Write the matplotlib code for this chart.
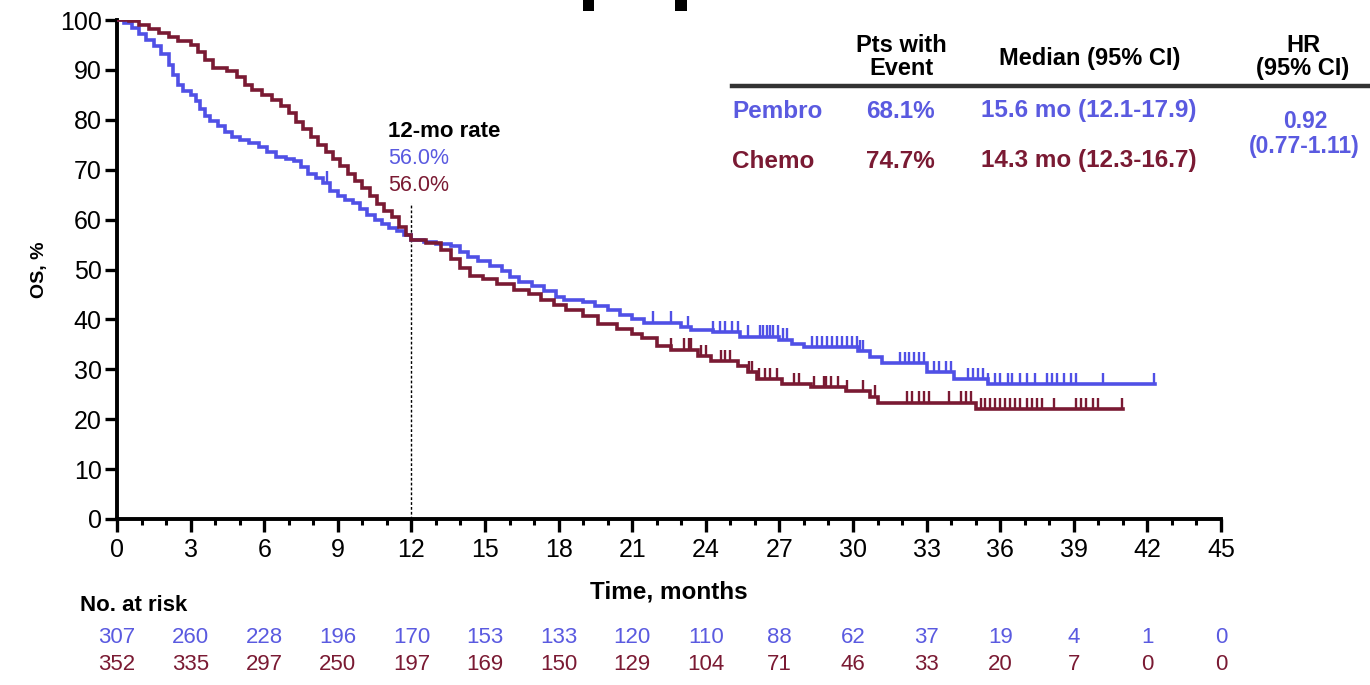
import numpy as np
import matplotlib
matplotlib.use('Agg')
import matplotlib.pyplot as plt
from matplotlib.lines import Line2D
from matplotlib.patches import Rectangle

plt.rcParams['font.family'] = ['Liberation Sans', 'DejaVu Sans']

# Colours
blue = '#5050E6'
blue_txt = '#5A5AE0'
red = '#7A1A33'

# Kaplan-Meier curves (time in months, OS %)
pembro_t = [0, 0.3, 0.6, 0.9, 1.2, 1.5, 1.8, 2.1, 2.3, 2.5, 2.7, 3.0, 3.2, 3.4, 3.6, 3.8,
            4.1, 4.4, 4.7, 5.0, 5.4, 5.8, 6.1, 6.5, 6.9, 7.2, 7.5, 7.8, 8.1, 8.4, 8.7,
            9.0, 9.3, 9.6, 9.9, 10.2, 10.5, 10.8, 11.1, 11.4, 11.7, 12.0, 12.5, 13.0,
            13.6, 14.0, 14.3, 14.7, 15.2, 15.7, 16.0, 16.4, 16.9, 17.4, 17.9, 18.2,
            19.0, 19.5, 20.0, 20.5, 21.0, 21.5, 23.0, 23.4, 24.3, 25.4, 27.0, 27.5,
            28.0, 30.2, 30.7, 31.2, 33.0, 34.1, 35.5, 42.3]
pembro_s = [100, 99.3, 98.3, 97.2, 96.0, 94.8, 93.2, 91.0, 89.0, 87.0, 85.8, 85.0, 83.8,
            82.2, 80.8, 79.8, 78.7, 77.6, 76.6, 76.0, 75.4, 74.6, 73.6, 72.6, 72.2, 71.8,
            70.6, 69.2, 68.4, 67.4, 65.8, 64.8, 64.0, 63.3, 62.2, 61.0, 60.0, 59.2, 58.4,
            57.8, 57.0, 56.0, 55.6, 55.2, 54.8, 53.6, 52.6, 51.8, 50.8, 49.6, 48.4, 47.4,
            46.6, 45.6, 44.4, 43.8, 43.4, 42.6, 41.8, 40.8, 40.0, 39.3, 38.4, 37.9, 37.4,
            36.5, 35.9, 35.0, 34.4, 33.6, 32.4, 31.2, 29.4, 28.0, 27.0, 27.0]

chemo_t = [0, 0.5, 0.9, 1.3, 1.7, 2.1, 2.5, 3.0, 3.3, 3.6, 3.9, 4.5, 4.9, 5.2, 5.5, 5.9,
           6.3, 6.7, 7.0, 7.3, 7.6, 7.9, 8.2, 8.5, 8.8, 9.1, 9.4, 9.7, 10.0, 10.3, 10.6,
           10.9, 11.2, 11.5, 11.8, 12.0, 12.6, 13.2, 13.6, 14.0, 14.4, 14.9, 15.5, 16.2,
           16.8, 17.3, 17.8, 18.3, 19.0, 19.6, 20.4, 21.0, 21.4, 22.0, 22.6, 23.7, 24.2,
           25.3, 25.7, 26.1, 27.1, 28.3, 29.7, 30.7, 31.0, 35.0, 41.0]
chemo_s = [100, 99.8, 99.0, 98.2, 97.4, 96.6, 95.8, 95.0, 93.6, 92.0, 90.4, 89.8, 88.6,
           87.0, 86.0, 85.0, 84.0, 82.8, 81.4, 79.6, 78.2, 76.6, 75.0, 73.6, 72.2, 70.8,
           69.2, 67.8, 66.4, 64.8, 63.2, 61.8, 60.6, 58.6, 57.0, 56.0, 55.4, 54.0, 52.2,
           50.4, 48.6, 48.0, 47.0, 45.8, 45.0, 43.8, 42.8, 41.8, 40.6, 39.0, 38.0, 37.0,
           36.2, 34.6, 33.9, 32.6, 31.6, 30.6, 29.4, 28.0, 27.0, 26.4, 25.6, 24.5, 23.3,
           22.0, 22.0]

# Censoring marks (months)
pembro_cens = [8.55, 21.85, 22.58, 23.28, 24.3, 24.58, 24.79, 25.07, 25.31, 25.72, 26.2,
               26.33, 26.5, 26.62, 26.74, 26.95, 27.15, 27.31, 28.33, 28.54, 28.74, 28.94,
               29.15, 29.35, 29.56, 29.76, 29.96, 30.17, 30.29, 30.41, 31.9, 32.1, 32.3,
               32.5, 32.7, 32.9, 33.3, 33.5, 33.8, 34.0, 34.7, 34.9, 35.1, 35.3, 35.5,
               35.8, 36.0, 36.3, 36.5, 36.8, 37.1, 37.4, 37.9, 38.1, 38.3, 38.6, 38.9,
               39.1, 40.2, 42.25]
chemo_cens = [22.6, 23.1, 23.3, 23.4, 23.8, 24.0, 24.6, 24.8, 25.0, 25.75, 25.9, 26.15,
              26.4, 26.6, 26.9, 27.6, 27.8, 28.4, 28.8, 28.9, 29.1, 29.4, 29.75, 30.4,
              30.9, 32.2, 32.4, 32.7, 32.9, 33.1, 33.9, 34.4, 34.6, 34.8, 35.2, 35.4,
              35.6, 35.8, 36.0, 36.2, 36.4, 36.6, 36.8, 37.1, 37.3, 37.5, 37.7, 38.2,
              39.1, 39.3, 39.5, 39.8, 40.0, 40.95]

# Number at risk
risk_times = [0, 3, 6, 9, 12, 15, 18, 21, 24, 27, 30, 33, 36, 39, 42, 45]
pembro_risk = [307, 260, 228, 196, 170, 153, 133, 120, 110, 88, 62, 37, 19, 4, 1, 0]
chemo_risk = [352, 335, 297, 250, 197, 169, 150, 129, 104, 71, 46, 33, 20, 7, 0, 0]

fig = plt.figure(figsize=(13.7, 6.85), dpi=100)
ax = fig.add_axes([117 / 1370, 1 - 519 / 685, 1104 / 1370, 499 / 685])


def px(x, y):
    return x / 1370, 1 - y / 685


def draw_km(t, s, cens, color):
    t = np.asarray(t)
    s = np.asarray(s)
    ax.step(t, s, where='post', color=color, lw=2.6, solid_joinstyle='miter', zorder=3)
    c = np.asarray(cens)
    idx = np.searchsorted(t, c, side='right') - 1
    ax.vlines(c, s[idx], s[idx] + 2.3, color=color, lw=1.7, zorder=3)


draw_km(pembro_t, pembro_s, pembro_cens, blue)
draw_km(chemo_t, chemo_s, chemo_cens, red)

# 12-month marker
ax.plot([12, 12], [0, 63.3], color='black', lw=1, linestyle=(0, (2, 1.5)), zorder=2)
ax.text(11.05, 77.6, '12-mo rate', fontsize=16, fontweight='bold', va='center', ha='left')
ax.text(11.05, 72.3, '56.0%', fontsize=15.5, color=blue_txt, va='center', ha='left')
ax.text(11.05, 66.9, '56.0%', fontsize=15.5, color=red, va='center', ha='left')

# Axes
ax.set_xlim(0, 45)
ax.set_ylim(0, 100)
ax.set_xticks(np.arange(0, 46, 3))
ax.set_xticks(np.arange(0, 46, 1), minor=True)
ax.set_yticks(np.arange(0, 101, 10))
for sp in ['top', 'right']:
    ax.spines[sp].set_visible(False)
for sp in ['left', 'bottom']:
    ax.spines[sp].set_linewidth(2.8)
ax.tick_params(axis='x', which='major', length=9, width=2.4, labelsize=18, pad=5)
ax.tick_params(axis='x', which='minor', length=4.5, width=2.2)
ax.tick_params(axis='y', which='major', length=9, width=2.4, labelsize=18, pad=2)

ax.text(-0.07, 0.5, 'OS, %', transform=ax.transAxes, rotation=90, fontsize=14,
        fontweight='bold', ha='center', va='center')
ax.text(22.5, -0.146, 'Time, months', transform=ax.get_xaxis_transform(), fontsize=17.5,
        fontweight='bold', ha='center', va='center')

# Number at risk table
tr = ax.get_xaxis_transform()
ax.text(-1.5, -0.174, 'No. at risk', transform=tr, fontsize=16, fontweight='bold',
        ha='left', va='center', clip_on=False)
for t, p, c in zip(risk_times, pembro_risk, chemo_risk):
    ax.text(t, -0.238, str(p), transform=tr, fontsize=16, color=blue_txt,
            ha='center', va='center', clip_on=False)
    ax.text(t, -0.291, str(c), transform=tr, fontsize=16, color=red,
            ha='center', va='center', clip_on=False)

# Summary table at top right
hdr = dict(fontsize=17, fontweight='bold', ha='center', va='center', linespacing=1.0)
fig.text(*px(901, 57), 'Pts with\nEvent', **hdr)
fig.text(*px(1090, 58), 'Median (95% CI)', **hdr)
fig.text(*px(1303, 57), 'HR\n(95% CI)', **hdr)
fig.add_artist(Line2D([732 / 1370, 1], [1 - 86 / 685] * 2, color='#333333', lw=3.2))

row = dict(fontsize=17.5, fontweight='bold', va='center')
fig.text(*px(732, 111), 'Pembro', color=blue_txt, ha='left', **row)
fig.text(*px(900, 111), '68.1%', color=blue_txt, ha='center', **row)
fig.text(*px(1089, 111), '15.6 mo (12.1-17.9)', color=blue_txt, ha='center', **row)
fig.text(*px(732, 161), 'Chemo', color=red, ha='left', **row)
fig.text(*px(900, 161), '74.7%', color=red, ha='center', **row)
fig.text(*px(1089, 161), '14.3 mo (12.3-16.7)', color=red, ha='center', **row)
fig.text(*px(1305, 122), '0.92', color=blue_txt, ha='center', **dict(row, fontsize=16.5))
fig.text(*px(1304, 147), '(0.77-1.11)', color=blue_txt, ha='center', **dict(row, fontsize=16.5))

# Two black marks cut off at the top edge of the slide
for x0, w in [(583, 11), (675, 12)]:
    fig.add_artist(Rectangle(px(x0, 11), w / 1370, 11 / 685, color='black', lw=0))

fig.savefig('out.png', dpi=100)
